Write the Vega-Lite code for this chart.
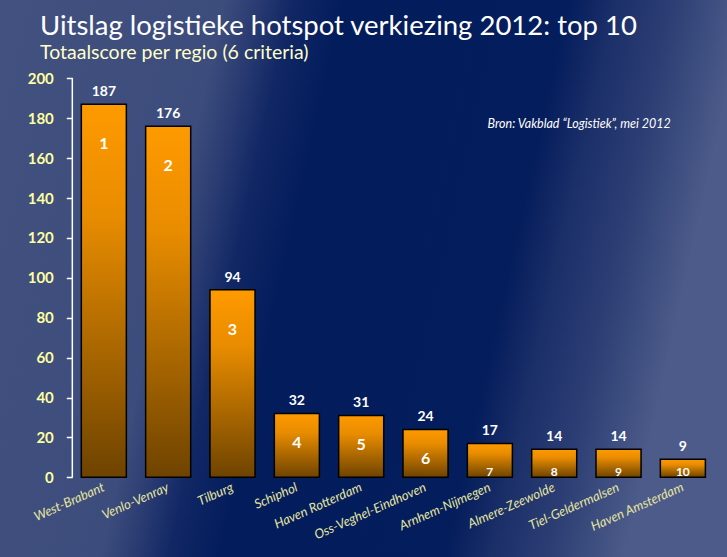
{
  "$schema": "https://vega.github.io/schema/vega-lite/v6.json",
  "width": 727,
  "height": 557,
  "autosize": {"type": "none"},
  "padding": 0,
  "background": "#1A2D66",
  "config": {
    "font": "Lato",
    "view": {
      "stroke": null,
      "fill": {
        "gradient": "linear",
        "x1": 0, "y1": 0, "x2": 1, "y2": 0.17,
        "stops": [
          {"offset": 0, "color": "#42517F"},
          {"offset": 0.3, "color": "#3C4C7C"},
          {"offset": 0.34, "color": "#2C3D73"},
          {"offset": 0.39, "color": "#122865"},
          {"offset": 0.46, "color": "#031C5C"},
          {"offset": 0.76, "color": "#041D5C"},
          {"offset": 0.82, "color": "#1A2E68"},
          {"offset": 0.9, "color": "#2C3E74"},
          {"offset": 1, "color": "#4C5B89"}
        ]
      }
    }
  },
  "title": {
    "text": "Uitslag logistieke hotspot verkiezing 2012: top 10",
    "subtitle": "Totaalscore per regio (6 criteria)",
    "anchor": "start",
    "frame": "group",
    "orient": "top",
    "offset": -62,
    "dx": 40,
    "font": "Lato",
    "fontSize": 27.5,
    "fontWeight": "normal",
    "color": "#FFFFFF",
    "subtitleFont": "Lato",
    "subtitleFontSize": 19.5,
    "subtitleColor": "#FFFFCC",
    "subtitlePadding": 3
  },
  "data": {
    "values": [
      {"rank": 1, "region": "West-Brabant", "score": 187},
      {"rank": 2, "region": "Venlo-Venray", "score": 176},
      {"rank": 3, "region": "Tilburg", "score": 94},
      {"rank": 4, "region": "Schiphol", "score": 32},
      {"rank": 5, "region": "Haven Rotterdam", "score": 31},
      {"rank": 6, "region": "Oss-Veghel-Eindhoven", "score": 24},
      {"rank": 7, "region": "Arnhem-Nijmegen", "score": 17},
      {"rank": 8, "region": "Almere-Zeewolde", "score": 14},
      {"rank": 9, "region": "Tiel-Geldermalsen", "score": 14},
      {"rank": 10, "region": "Haven Amsterdam", "score": 9}
    ]
  },
  "encoding": {
    "x": {
      "field": "region",
      "type": "nominal",
      "sort": null,
      "scale": {"paddingInner": 0.3, "paddingOuter": 0.8, "align": 0.79},
      "axis": {
        "title": null,
        "orient": "bottom",
        "offset": -79.7,
        "domain": false,
        "ticks": false,
        "grid": false,
        "labelAngle": -24,
        "labelAlign": "right",
        "labelBaseline": "middle",
        "labelPadding": 9,
        "labelFont": "Lato",
        "labelFontStyle": "italic",
        "labelFontSize": 13,
        "labelColor": "#E6E6A0"
      }
    }
  },
  "layer": [
    {
      "mark": {
        "type": "bar",
        "stroke": "#000000",
        "strokeWidth": 1.5,
        "color": {
          "gradient": "linear",
          "x1": 0, "y1": 0, "x2": 0, "y2": 1,
          "stops": [
            {"offset": 0, "color": "#FF9A00"},
            {"offset": 0.3, "color": "#E88C00"},
            {"offset": 1, "color": "#6E4300"}
          ]
        }
      },
      "encoding": {
        "y": {
          "field": "score",
          "type": "quantitative",
          "scale": {"domain": [-39.95, 239.25], "nice": false, "zero": false},
          "axis": {
            "title": null,
            "orient": "left",
            "offset": -72.3,
            "values": [0, 20, 40, 60, 80, 100, 120, 140, 160, 180, 200],
            "domain": false,
            "grid": false,
            "ticks": true,
            "tickSize": 6,
            "tickWidth": 1.5,
            "tickColor": "#FFFFFF",
            "labelPadding": 13,
            "labelFont": "Lato",
            "labelFontWeight": "bold",
            "labelFontSize": 15,
            "labelColor": "#FFFFA0"
          }
        },
        "y2": {"datum": 0}
      }
    },
    {
      "data": {"values": [{"lo": 0, "hi": 200}]},
      "mark": {"type": "rule", "color": "#FFFFFF", "strokeWidth": 1.5},
      "encoding": {
        "x": {"datum": "West-Brabant", "type": "nominal", "bandPosition": -0.2},
        "y": {"field": "lo", "type": "quantitative"},
        "y2": {"field": "hi"}
      }
    },
    {
      "mark": {"type": "text", "baseline": "alphabetic", "dy": -8, "font": "Lato", "fontWeight": "bold", "fontSize": 14, "color": "#FFFFFF"},
      "encoding": {
        "y": {"field": "score", "type": "quantitative"},
        "text": {"field": "score", "type": "quantitative"}
      }
    },
    {
      "transform": [{"filter": "datum.rank <= 3"}],
      "mark": {"type": "text", "baseline": "middle", "dy": 40, "font": "Lato", "fontWeight": "bold", "fontSize": 16, "color": "#FFFFFF"},
      "encoding": {
        "y": {"field": "score", "type": "quantitative"},
        "text": {"field": "rank", "type": "quantitative"}
      }
    },
    {
      "transform": [{"filter": "datum.rank >= 4 && datum.rank <= 6"}],
      "mark": {"type": "text", "baseline": "middle", "dy": 30, "font": "Lato", "fontWeight": "bold", "fontSize": 16, "color": "#FFFFFF"},
      "encoding": {
        "y": {"field": "score", "type": "quantitative"},
        "text": {"field": "rank", "type": "quantitative"}
      }
    },
    {
      "transform": [{"filter": "datum.rank >= 7"}],
      "mark": {"type": "text", "baseline": "middle", "font": "Lato", "fontWeight": "bold", "fontSize": 12, "color": "#FFFFFF"},
      "encoding": {
        "y": {"datum": 2.5, "type": "quantitative"},
        "text": {"field": "rank", "type": "quantitative"}
      }
    },
    {
      "data": {"values": [{"note": "Bron:  Vakblad “Logistiek”, mei 2012"}]},
      "mark": {"type": "text", "align": "right", "baseline": "middle", "dx": -12, "font": "Lato", "fontStyle": "italic", "fontSize": 12.5, "color": "#FFFFFF"},
      "encoding": {
        "x": {"datum": "Haven Amsterdam", "type": "nominal"},
        "y": {"datum": 177, "type": "quantitative"},
        "text": {"field": "note", "type": "nominal"}
      }
    }
  ]
}
